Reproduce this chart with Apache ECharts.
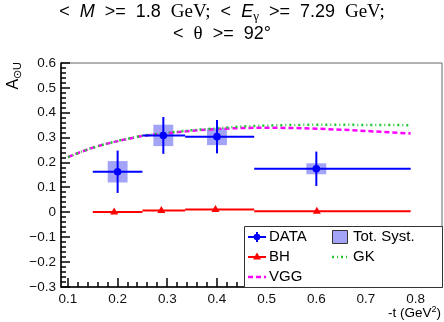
<!DOCTYPE html>
<html><head><meta charset="utf-8">
<script src="https://cdn.jsdelivr.net/npm/echarts@6/dist/echarts.min.js"></script>
<style>html,body{margin:0;padding:0;background:#fff}#c{width:444px;height:322px}</style>
</head><body><div id="c"></div>
<script>
// ---- data ----
const dataX    = [0.2, 0.292, 0.4, 0.6];
const dataY    = [0.163, 0.309, 0.304, 0.175];
const dataXLo  = [0.15, 0.25, 0.336, 0.475];
const dataXHi  = [0.25, 0.336, 0.475, 0.79];
const dataYErr = [0.085, 0.074, 0.067, 0.069];
const systErr  = [0.043, 0.043, 0.034, 0.022];
const systHalfW = 0.02;

const bhX   = [0.193, 0.288, 0.397, 0.601];
const bhY   = [0.001, 0.007, 0.011, 0.004];
const bhXLo = [0.15, 0.25, 0.336, 0.475];
const bhXHi = [0.25, 0.336, 0.475, 0.79];

const curveX = [0.1, 0.125, 0.15, 0.175, 0.2, 0.225, 0.25, 0.275, 0.3, 0.35, 0.4, 0.45, 0.5, 0.55, 0.6, 0.65, 0.7, 0.75, 0.79];
const vggY   = [0.222, 0.242, 0.260, 0.274, 0.286, 0.297, 0.307, 0.313, 0.318, 0.328, 0.335, 0.339, 0.340, 0.339, 0.336, 0.332, 0.327, 0.321, 0.317];
const gkY    = [0.222, 0.242, 0.260, 0.274, 0.287, 0.298, 0.308, 0.314, 0.320, 0.330, 0.338, 0.345, 0.349, 0.351, 0.352, 0.352, 0.351, 0.351, 0.350];

const xMajorTicks = [0.1, 0.2, 0.3, 0.4, 0.5, 0.6, 0.7, 0.8];
const xMinorTicks = [0.12,0.14,0.16,0.18,0.22,0.24,0.26,0.28,0.32,0.34,0.36,0.38,0.42,0.44,0.46,0.48,0.52,0.54,0.56,0.58,0.62,0.64,0.66,0.68,0.72,0.74,0.76,0.78,0.82,0.84];
const yMajorTicks = [-0.3,-0.2,-0.1,0,0.1,0.2,0.3,0.4,0.5,0.6];
const yMinorTicks = [-0.28,-0.26,-0.24,-0.22,-0.18,-0.16,-0.14,-0.12,-0.08,-0.06,-0.04,-0.02,0.02,0.04,0.06,0.08,0.12,0.14,0.16,0.18,0.22,0.24,0.26,0.28,0.32,0.34,0.36,0.38,0.42,0.44,0.46,0.48,0.52,0.54,0.56,0.58];
const xMin = 0.086, xMax = 0.853;
const yMin = -0.3, yMax = 0.6, yStep = 0.1;

// ---- chart ----
const chart = echarts.init(document.getElementById('c'), null, {renderer:'canvas'});
const FONT = 'Liberation Sans, Arial, sans-serif';
const SERIF = 'Liberation Serif, DejaVu Serif, serif';
const BLUE = '#0000ff', RED = '#ff0000', MAG = '#ff00ff', GRN = '#22c833', SYS = '#a3a3f7';

const dataRows = dataX.map((x,i)=>[x, dataY[i], dataXLo[i], dataXHi[i], dataYErr[i], systErr[i]]);
const bhRows = bhX.map((x,i)=>[x, bhY[i], bhXLo[i], bhXHi[i]]);
// tick rows: [x, y, length, direction(0 = up from x axis, 1 = right from y axis)]
const tickRows = [].concat(
  xMajorTicks.map(v=>[v, yMin, 9, 0]),
  xMinorTicks.map(v=>[v, yMin, 5, 0]),
  yMajorTicks.map(v=>[xMin, v, 9, 1]),
  yMinorTicks.map(v=>[xMin, v, 5, 1])
);

function fmtY(v){
  const r = Math.round(v*10)/10;
  if (Math.abs(r) < 1e-9) return '0';
  return (r<0?'\u2212':'') + Math.abs(r).toFixed(1);
}

const txt = (x,y,t)=>({type:'text', x:x, y:y, z:101, style:{text:t, font:'15px '+FONT, fill:'#000', verticalAlign:'middle'}});
const T = {fontFamily:FONT, fontSize:18, fontWeight:'normal', color:'#000', lineHeight:22};

chart.setOption({
  animation:false,
  textStyle:{fontFamily:FONT},
  title:{
    left:'center', top:1, padding:0,
    text:'{n|<}{g| }{i|M}{g| }{n|>=}{g| }{n|1.8}{g| }{s|GeV;}{g| }{n|<}{g| }{i|E}{sub|\u03b3}{g| }{n|>=}{g| }{n|7.29}{g| }{s|GeV;}\n{n|<}{g| }{s|\u03b8}{g| }{n|>=}{g| }{n|92°}',
    textStyle:{
      fontWeight:'normal',
      rich:{
        n:T,
        g:Object.assign({}, T, {width:10}),
        i:Object.assign({}, T, {fontStyle:'italic'}),
        s:Object.assign({}, T, {fontFamily:SERIF, fontSize:19}),
        sub:Object.assign({}, T, {fontFamily:SERIF, fontSize:13, padding:[9,0,0,0]})
      }
    }
  },
  grid:{left:61, right:2, top:63, bottom:35, show:true, borderColor:'#666', borderWidth:1},
  xAxis:{
    type:'value', min:xMin, max:xMax, position:'bottom',
    axisLine:{show:true, onZero:false, lineStyle:{color:'#000', width:1.5}},
    axisTick:{show:false},
    axisLabel:{show:true, customValues:xMajorTicks, margin:5, color:'#111', fontSize:13.5, fontFamily:FONT, formatter:v=>v.toFixed(1)},
    splitLine:{show:false}
  },
  yAxis:{
    type:'value', min:yMin, max:yMax, interval:yStep, position:'left',
    axisLine:{show:true, onZero:false, lineStyle:{color:'#000', width:1.5}},
    axisTick:{show:false},
    minorTick:{show:false},
    axisLabel:{margin:5, color:'#111', fontSize:13.5, fontFamily:FONT, formatter:fmtY},
    splitLine:{show:false}
  },
  series:[
    { // systematic boxes
      type:'custom', z:1, data:dataRows, encode:{x:0,y:1},
      renderItem:(p, api)=>{
        const x=api.value(0), y=api.value(1), s=api.value(5);
        const a=api.coord([x-systHalfW, y+s]), b=api.coord([x+systHalfW, y-s]);
        return {type:'rect', shape:{x:a[0], y:a[1], width:b[0]-a[0], height:b[1]-a[1]}, style:{fill:SYS}};
      }
    },
    {
      type:'line', name:'VGG', z:2, showSymbol:false, symbol:'none',
      data:curveX.map((x,i)=>[x, vggY[i]]),
      lineStyle:{color:MAG, width:2.5, type:[5,3]}
    },
    {
      type:'line', name:'GK', z:3, showSymbol:false, symbol:'none',
      data:curveX.map((x,i)=>[x, gkY[i]]),
      lineStyle:{color:GRN, width:2.5, type:[2,3,1,3]}
    },
    { // BH
      type:'custom', z:4, data:bhRows, encode:{x:0,y:1},
      renderItem:(p, api)=>{
        const x=api.value(0), y=api.value(1);
        const c=api.coord([x,y]), l=api.coord([api.value(2),y]), r=api.coord([api.value(3),y]);
        return {type:'group', children:[
          {type:'line', shape:{x1:l[0],y1:c[1],x2:r[0],y2:c[1]}, style:{stroke:RED, lineWidth:2}},
          {type:'polygon', shape:{points:[[c[0],c[1]-4.5],[c[0]-4,c[1]+2.5],[c[0]+4,c[1]+2.5]]}, style:{fill:RED}}
        ]};
      }
    },
    { // DATA
      type:'custom', z:5, data:dataRows, encode:{x:0,y:1},
      renderItem:(p, api)=>{
        const x=api.value(0), y=api.value(1), e=api.value(4);
        const c=api.coord([x,y]), l=api.coord([api.value(2),y]), r=api.coord([api.value(3),y]);
        const t=api.coord([x,y+e]), b=api.coord([x,y-e]);
        return {type:'group', children:[
          {type:'line', shape:{x1:l[0],y1:c[1],x2:r[0],y2:c[1]}, style:{stroke:BLUE, lineWidth:2}},
          {type:'line', shape:{x1:c[0],y1:t[1],x2:c[0],y2:b[1]}, style:{stroke:BLUE, lineWidth:2}},
          {type:'circle', shape:{cx:c[0],cy:c[1],r:3.8}, style:{fill:BLUE}}
        ]};
      }
    },
    { // axis ticks, placed through the axis scales
      type:'custom', z:7, silent:true, clip:false, data:tickRows, encode:{x:0,y:1},
      renderItem:(p, api)=>{
        const c = api.coord([api.value(0), api.value(1)]);
        const len = api.value(2), dir = api.value(3);
        if (dir < 0.5) {
          return {type:'rect', shape:{x:Math.round(c[0])-0.75, y:c[1]-len, width:1.5, height:len}, style:{fill:'#000'}};
        }
        return {type:'rect', shape:{x:c[0], y:Math.round(c[1])-0.75, width:len, height:1.5}, style:{fill:'#000'}};
      }
    }
  ],
  graphic:[
    {type:'text', x:14, y:62, rotation:Math.PI/2, z:101,
     style:{text:'A{s|\u2299U}', align:'right', verticalAlign:'middle', fill:'#000', font:'16px '+FONT,
       rich:{s:{fontSize:11, fontFamily:FONT, fill:'#000', padding:[7,0,0,0]}}}},
    {type:'text', x:441, y:313, z:101, style:{text:'-t (GeV{s|2})', align:'right', verticalAlign:'middle', fill:'#000', font:'13.5px '+FONT,
       rich:{s:{fontSize:9, fontFamily:FONT, fill:'#000', padding:[0,0,7,0]}}}},
    {type:'rect', z:100, shape:{x:244.5, y:226.5, width:198, height:61}, style:{fill:'#fff', stroke:'#333', lineWidth:1}},
    {type:'line', z:101, shape:{x1:248,y1:237,x2:266,y2:237}, style:{stroke:BLUE, lineWidth:2}},
    {type:'line', z:101, shape:{x1:257,y1:232,x2:257,y2:242}, style:{stroke:BLUE, lineWidth:2}},
    {type:'circle', z:101, shape:{cx:257,cy:237,r:3.3}, style:{fill:BLUE}},
    txt(269,237,'DATA'),
    {type:'rect', z:101, shape:{x:332.5,y:230.5,width:15,height:13}, style:{fill:SYS, stroke:'#333', lineWidth:1}},
    txt(353,237,'Tot. Syst.'),
    {type:'line', z:101, shape:{x1:248,y1:257,x2:266,y2:257}, style:{stroke:RED, lineWidth:2}},
    {type:'polygon', z:101, shape:{points:[[257,252.5],[253,259.5],[261,259.5]]}, style:{fill:RED}},
    txt(269,257,'BH'),
    {type:'line', z:101, shape:{x1:332,y1:257,x2:349,y2:257}, style:{stroke:GRN, lineWidth:2.5, lineDash:[2,3,1,3]}},
    txt(353,257,'GK'),
    {type:'line', z:101, shape:{x1:248,y1:277,x2:266,y2:277}, style:{stroke:MAG, lineWidth:2.5, lineDash:[5,3]}},
    txt(269,277,'VGG')
  ]
});
</script>
</body></html>
